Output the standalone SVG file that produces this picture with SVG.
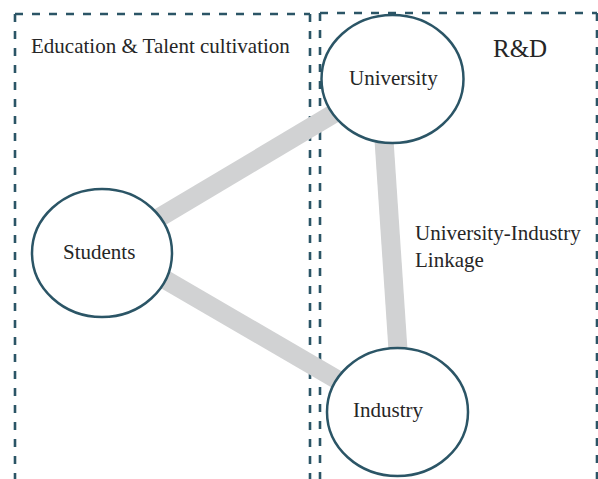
<svg xmlns="http://www.w3.org/2000/svg" width="598" height="479" viewBox="0 0 598 479">
<style>
.box{fill:none;stroke:#2b5566;stroke-width:2.6;stroke-dasharray:8 9}
.link{stroke:#d1d2d3;stroke-width:19;fill:none}
.node ellipse{fill:#ffffff;stroke:#2b5566;stroke-width:2.5}
text{font-family:"Liberation Serif","Times New Roman",serif;font-size:21px;fill:#262626}
</style>
<rect width="598" height="479" fill="#ffffff"/>
<g id="groups">
<path class="box" d="M15,14 H310 M15,14 V479 M310,14 V479"/>
<path class="box" d="M320,13 H597 M320,13 V479 M597,13 V479"/>
<text x="31" y="53">Education &amp; Talent cultivation</text>
<text x="493" y="57" style="font-size:25px">R&amp;D</text>
</g>
<g id="connectors">
<line class="link" x1="130" y1="235" x2="360" y2="98"/>
<line class="link" x1="140" y1="265" x2="360" y2="393"/>
<line class="link" x1="382" y1="110" x2="400" y2="380"/>
<text x="415" y="240">University-Industry</text>
<text x="415" y="267">Linkage</text>
</g>
<g id="university" class="node">
<ellipse cx="392.5" cy="79" rx="71" ry="64"/>
<text x="349" y="85">University</text>
</g>
<g id="students" class="node">
<ellipse cx="102" cy="253" rx="70" ry="64"/>
<text x="63" y="259">Students</text>
</g>
<g id="industry" class="node">
<ellipse cx="397.5" cy="412" rx="70.5" ry="64"/>
<text x="353" y="417">Industry</text>
</g>
</svg>
